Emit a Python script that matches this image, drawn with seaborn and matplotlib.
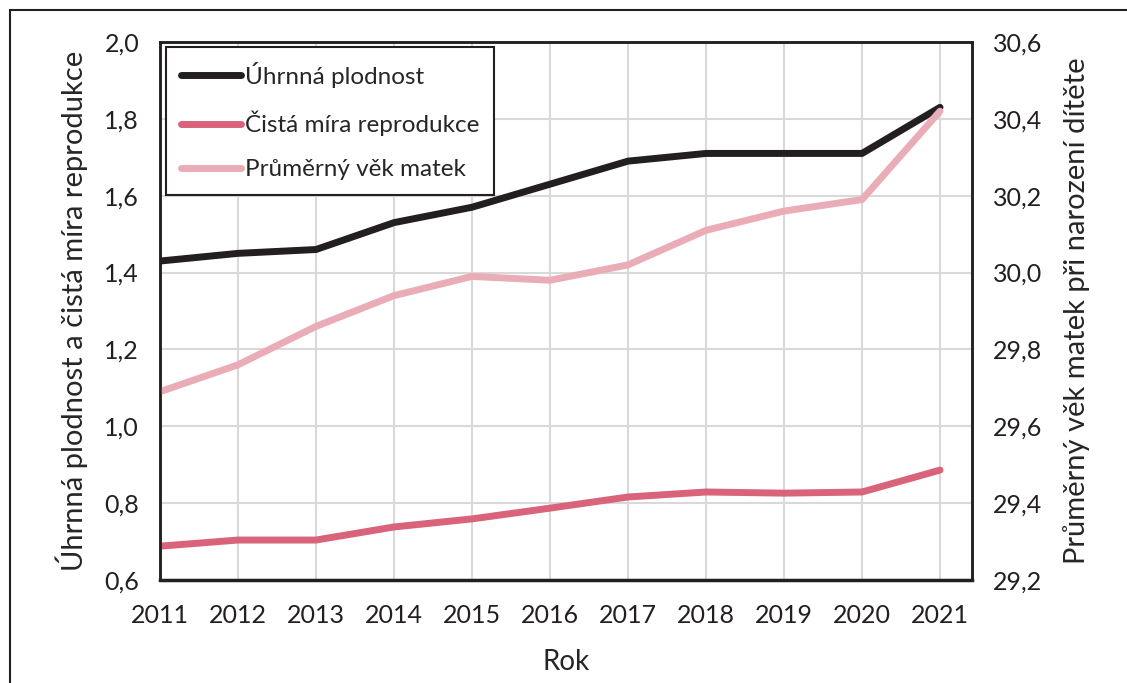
import matplotlib
matplotlib.use("Agg")
import matplotlib.pyplot as plt
import seaborn as sns
import pandas as pd
from matplotlib.patches import Rectangle

years = [2011, 2012, 2013, 2014, 2015, 2016, 2017, 2018, 2019, 2020, 2021]
uhrnna = [1.43, 1.45, 1.46, 1.53, 1.57, 1.63, 1.69, 1.71, 1.71, 1.71, 1.83]
cista = [0.688, 0.704, 0.704, 0.738, 0.759, 0.787, 0.816, 0.829, 0.826, 0.829, 0.886]
vek = [29.69, 29.76, 29.86, 29.94, 29.99, 29.98, 30.02, 30.11, 30.16, 30.19, 30.42]

left_ticks = [0.6, 0.8, 1.0, 1.2, 1.4, 1.6, 1.8, 2.0]
right_ticks = [29.2, 29.4, 29.6, 29.8, 30.0, 30.2, 30.4, 30.6]

df = pd.DataFrame({"Rok": years, "uhrnna": uhrnna, "cista": cista, "vek": vek})

sns.set_style("white")
plt.rcParams["font.family"] = ["Lato", "DejaVu Sans"]

fig = plt.figure(figsize=(11.27, 6.83), dpi=100)
ax = fig.add_axes([160/1127, 1-580/683, (972-160)/1127, (580-42)/683])
ax2 = ax.twinx()

# outer frame of the figure (cut off on the right and bottom)
fig.patches.append(Rectangle((10/1127, -0.1), 1.2, 1.1 - 10/683, transform=fig.transFigure,
                             fill=False, edgecolor="#231f20", linewidth=1.5, clip_on=False))

c_black = "#231f20"
c_red = "#d9637a"
c_pink = "#eaadb7"
lw = 5

sns.lineplot(data=df, x="Rok", y="uhrnna", ax=ax, color=c_black, linewidth=lw,
             label="Úhrnná plodnost", legend=False)
sns.lineplot(data=df, x="Rok", y="cista", ax=ax, color=c_red, linewidth=lw,
             label="Čistá míra reprodukce", legend=False)
sns.lineplot(data=df, x="Rok", y="vek", ax=ax2, color=c_pink, linewidth=lw,
             label="Průměrný věk matek", legend=False)

ax.set_xlim(2011, 2021.41)
ax.set_ylim(0.6, 2.0)
ax2.set_ylim(29.2, 30.6)
ax.set_xticks(years)
ax.set_xticklabels([str(y) for y in years])
ax.set_yticks(left_ticks)
ax.set_yticklabels([f"{v:.1f}".replace(".", ",") for v in left_ticks])
ax2.set_yticks(right_ticks)
ax2.set_yticklabels([f"{v:.1f}".replace(".", ",") for v in right_ticks])

ax.grid(True, color="#d9d9d9", linewidth=1.5)
ax.set_axisbelow(True)
for a in (ax, ax2):
    for s in a.spines.values():
        s.set_color(c_black)
        s.set_linewidth(1.8)
    a.tick_params(length=0, labelsize=18, colors="#231f20", pad=15)
ax.tick_params(axis="x", pad=17)
ax.spines["bottom"].set_linewidth(2.5)

ax.set_xlabel("Rok", fontsize=20, labelpad=16)
ax.set_ylabel("Úhrnná plodnost a čistá míra reprodukce", fontsize=21, labelpad=12)
ax2.set_ylabel("Průměrný věk matek při narození dítěte", fontsize=21, labelpad=15)

h1, l1 = ax.get_legend_handles_labels()
h2, l2 = ax2.get_legend_handles_labels()
leg = ax2.legend(h1 + h2, l1 + l2, loc="upper left", bbox_to_anchor=(6/812, 1-5/538),
                 borderaxespad=0, fontsize=17.5, frameon=True, fancybox=False,
                 edgecolor=c_black, framealpha=1, handlelength=2.5, handletextpad=0.15,
                 labelspacing=0.95, borderpad=0.6)
leg.get_frame().set_linewidth(1.5)

fig.savefig("out.png", dpi=100)
